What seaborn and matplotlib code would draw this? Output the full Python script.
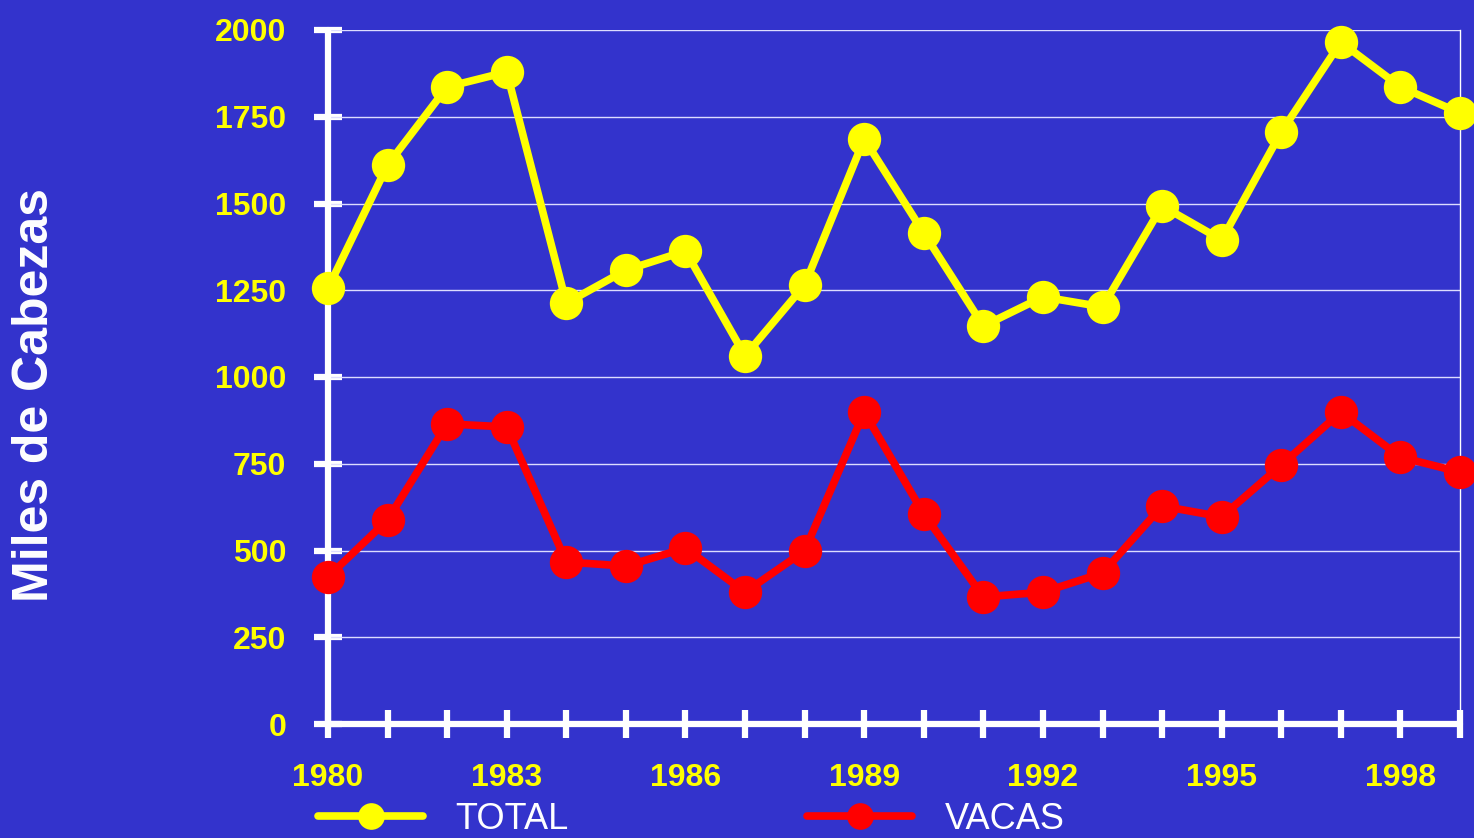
import matplotlib
matplotlib.use("Agg")
import matplotlib.pyplot as plt
import seaborn as sns
import pandas as pd

years = list(range(1980, 2000))
total = [1256, 1611, 1836, 1879, 1213, 1308, 1363, 1061, 1265, 1686,
         1415, 1147, 1231, 1202, 1493, 1395, 1706, 1965, 1836, 1761]
vacas = [424, 588, 865, 856, 467, 455, 507, 380, 499, 899,
         605, 366, 380, 435, 628, 597, 746, 899, 769, 726]
series_names = ["TOTAL", "VACAS"]
series_colors = ["#FFFF00", "#FF0000"]
y_ticks = [0, 250, 500, 750, 1000, 1250, 1500, 1750, 2000]
x_label_years = [1980, 1983, 1986, 1989, 1992, 1995, 1998]
y_label = "Miles de Cabezas"

bg = "#3333CC"
sns.set_theme(style="white")
plt.rcParams["font.family"] = ["Liberation Sans", "DejaVu Sans"]

fig = plt.figure(figsize=(14.74, 8.38), dpi=100, facecolor=bg)
ax = fig.add_axes([328/1474, 1-724/838, (1460-328)/1474, (724-30)/838])
ax.set_facecolor(bg)

df = pd.DataFrame({"year": years * 2,
                   "value": total + vacas,
                   "serie": ["TOTAL"] * len(years) + ["VACAS"] * len(years)})

for name, col in zip(series_names, series_colors):
    sub = df[df["serie"] == name]
    sns.lineplot(data=sub, x="year", y="value", ax=ax, color=col, lw=5.5,
                 marker="o", markersize=24, markeredgewidth=0, label=name,
                 clip_on=False, zorder=5, legend=False)

ax.set_xlim(1980, 1999)
ax.set_ylim(0, 2000)
ax.set_yticks(y_ticks)
ax.set_yticklabels([str(v) for v in y_ticks])
ax.set_xticks(years)
ax.set_xticklabels([str(y) if y in x_label_years else "" for y in years])

for g in y_ticks[1:]:
    ax.axhline(g, color="#DDDDFF", lw=1.0, zorder=1)

ax.spines["top"].set_visible(False)
ax.spines["right"].set_color("white")
ax.spines["right"].set_linewidth(1.0)
for s in ["left", "bottom"]:
    ax.spines[s].set_color("white")
    ax.spines[s].set_linewidth(4.5)
    ax.spines[s].set_capstyle("round")

ax.tick_params(axis="both", which="major", left=True, bottom=True,
               direction="inout", length=20, width=4.5,
               color="white", labelcolor="#FFFF00", labelsize=23)
ax.tick_params(axis="y", pad=20)
ax.tick_params(axis="x", pad=18)
for lab in ax.get_xticklabels() + ax.get_yticklabels():
    lab.set_fontweight("bold")

ax.set_xlabel("")
ax.set_ylabel(y_label, color="white", fontsize=36, fontweight="bold")
ax.yaxis.set_label_coords((58 - 328) / 1132, (724 - 395) / 694)

handles, labels = ax.get_legend_handles_labels()
leg = fig.legend(handles, labels, loc="lower left", bbox_to_anchor=(304/1474, -0.016),
                 ncol=2, frameon=False, fontsize=26, handlelength=2.9,
                 columnspacing=6.6, handletextpad=0.9, labelcolor="white",
                 markerscale=0.8, borderaxespad=0.0)

fig.savefig("out.png", dpi=100, facecolor=bg)
